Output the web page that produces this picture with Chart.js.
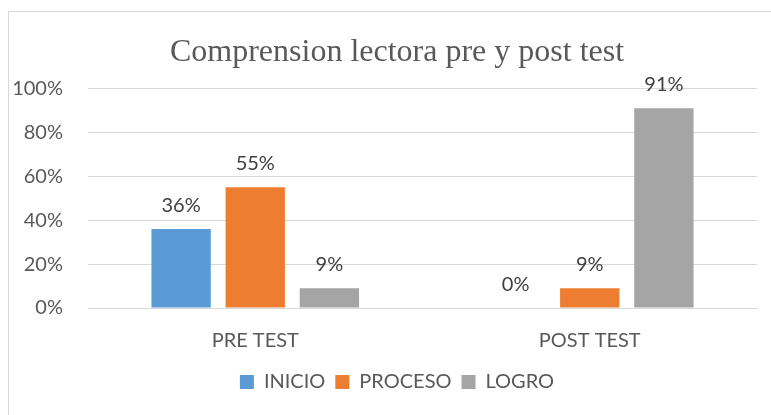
<!DOCTYPE html>
<html>
<head>
<meta charset="utf-8">
<script src="https://cdn.jsdelivr.net/npm/chart.js@4.4.0/dist/chart.umd.min.js"></script>
<style>
  html, body { margin: 0; padding: 0; background: #fff; overflow: hidden; }
  #wrap { position: relative; width: 771px; height: 415px; overflow: hidden; }
  #frame {
    position: absolute; left: 8px; top: 11px; right: -2px; bottom: -2px;
    border-left: 1px solid #d9d9d9; border-top: 1px solid #d9d9d9;
  }
  canvas { position: absolute; left: 0; top: 0; }
</style>
</head>
<body>
<div id="wrap">
  <div id="frame"></div>
  <canvas id="chart" width="795" height="415"></canvas>
</div>
<script>
// Chart data
const categories = ['PRE TEST', 'POST TEST'];
const inicio = [36, 0];
const proceso = [55, 9];
const logro = [9, 91];
const yTicks = [0, 20, 40, 60, 80, 100];

const textColor = '#595959';
const font = 'Lato';

// Draw value labels above each bar
const valueLabels = {
    id: 'valueLabels',
    afterDatasetsDraw(chart) {
        const ctx = chart.ctx;
        ctx.save();
        ctx.font = '20px ' + font;
        ctx.fillStyle = '#404040';
        ctx.textAlign = 'center';
        ctx.textBaseline = 'alphabetic';
        chart.data.datasets.forEach((ds, i) => {
            const meta = chart.getDatasetMeta(i);
            meta.data.forEach((bar, j) => {
                ctx.fillText(ds.data[j] + '%', bar.x, bar.y - 17);
            });
        });
        ctx.restore();
    }
};

new Chart(document.getElementById('chart').getContext('2d'), {
    type: 'bar',
    data: {
        labels: categories,
        datasets: [
            { label: 'INICIO', data: inicio, backgroundColor: '#5B9BD5' },
            { label: 'PROCESO', data: proceso, backgroundColor: '#ED7D31' },
            { label: 'LOGRO', data: logro, backgroundColor: '#A5A5A5' }
        ]
    },
    options: {
        responsive: false,
        animation: false,
        categoryPercentage: 0.665,
        barPercentage: 0.8,
        layout: { padding: { left: 13, right: 14, top: 11, bottom: 13 } },
        plugins: {
            title: {
                display: true,
                text: 'Comprension lectora pre y post test',
                color: textColor,
                font: { family: 'Liberation Serif', size: 32, weight: 'normal' },
                padding: { top: 22, bottom: 17 }
            },
            legend: {
                position: 'bottom',
                labels: {
                    color: textColor,
                    font: { family: font, size: 20 },
                    boxWidth: 14,
                    boxHeight: 14,
                    padding: 10
                }
            },
            tooltip: { enabled: false }
        },
        scales: {
            x: {
                grid: { display: false, drawTicks: false },
                border: { color: '#d9d9d9' },
                ticks: { color: textColor, font: { family: font, size: 20 }, padding: 21 },
                afterFit(scale) { scale.height = 54; }
            },
            y: {
                min: 0,
                max: 100,
                afterBuildTicks(scale) { scale.ticks = yTicks.map(v => ({ value: v })); },
                grid: { color: '#d9d9d9', drawTicks: false },
                border: { display: false },
                ticks: {
                    color: textColor,
                    font: { family: font, size: 20 },
                    padding: 25,
                    callback: v => v + '%'
                },
                afterFit(scale) { scale.width = 75; }
            },
            // empty right-hand spacer: the reference frame runs past the picture's right edge
            spacer: {
                type: 'linear',
                position: 'right',
                grid: { display: false, drawTicks: false },
                border: { display: false },
                ticks: { display: false },
                afterFit(scale) { scale.width = 24; }
            }
        }
    },
    plugins: [valueLabels]
});
</script>
</body>
</html>
